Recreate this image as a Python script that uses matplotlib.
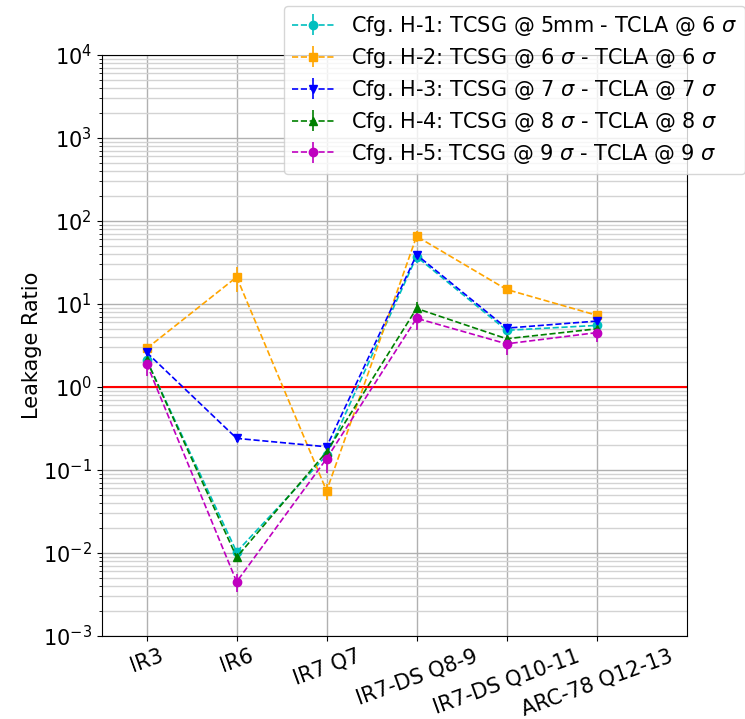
import matplotlib
matplotlib.use("Agg")
import matplotlib.pyplot as plt
import numpy as np

regions = ["IR3", "IR6", "IR7 Q7", "IR7-DS Q8-9", "IR7-DS Q10-11", "ARC-78 Q12-13"]

labels = [
    r"Cfg. H-1: TCSG @ 5mm - TCLA @ 6 $\sigma$",
    r"Cfg. H-2: TCSG @ 6 $\sigma$ - TCLA @ 6 $\sigma$",
    r"Cfg. H-3: TCSG @ 7 $\sigma$ - TCLA @ 7 $\sigma$",
    r"Cfg. H-4: TCSG @ 8 $\sigma$ - TCLA @ 8 $\sigma$",
    r"Cfg. H-5: TCSG @ 9 $\sigma$ - TCLA @ 9 $\sigma$",
]

# leakage ratios per configuration
h1 = [2.1, 0.0103, 0.15, 37.0, 4.8, 5.5]
h2 = [2.9, 21.0, 0.056, 65.0, 14.9, 7.3]
h3 = [2.6, 0.24, 0.19, 39.0, 5.1, 6.2]
h4 = [2.1, 0.0089, 0.165, 8.8, 3.8, 5.0]
h5 = [1.9, 0.0045, 0.137, 6.7, 3.3, 4.5]

h1_err = [0.3, 0.0012, 0.02, 6.0, 0.5, 0.5]
h2_err = [0.3, 7.0, 0.012, 10.0, 1.2, 0.6]
h3_err = [0.3, 0.02, 0.015, 4.0, 0.4, 0.4]
h4_err = [0.3, 0.0011, 0.02, 1.8, 0.5, 0.5]
h5_err = [0.55, 0.0011, 0.045, 1.8, 0.9, 1.0]

series = [h1, h2, h3, h4, h5]
errors = [h1_err, h2_err, h3_err, h4_err, h5_err]
colors = ["c", "orange", "b", "g", "m"]
markers = ["o", "s", "v", "^", "o"]

fig = plt.figure(figsize=(7.45, 7.19), dpi=100)
ax = fig.add_axes([0.1365, 0.1154, 0.785, 0.8085])

x = np.arange(len(regions))
for vals, err, c, m, lab in zip(series, errors, colors, markers, labels):
    ax.errorbar(x, vals, yerr=err, color=c, marker=m, linestyle="--",
                linewidth=1.2, markersize=6, label=lab)

ax.axhline(1.0, color="r", linewidth=1.5)

ax.set_yscale("log")
ax.set_ylim(1e-3, 1e4)
ax.set_xlim(-0.5, 6)
ax.set_xticks(x)
ax.set_xticklabels(regions, rotation=20, fontsize=15)
ax.tick_params(axis="y", labelsize=15)
ax.set_ylabel("Leakage Ratio", fontsize=15, labelpad=1)
ax.grid(which="major", color="#b0b0b0", linewidth=1)
ax.grid(which="minor", color="#d3d3d3", linewidth=1)

fig.legend(loc="upper left", bbox_to_anchor=(0.381, 0.992), fontsize=15,
           labelspacing=0.38, borderaxespad=0)

fig.savefig("out.png", dpi=100)
